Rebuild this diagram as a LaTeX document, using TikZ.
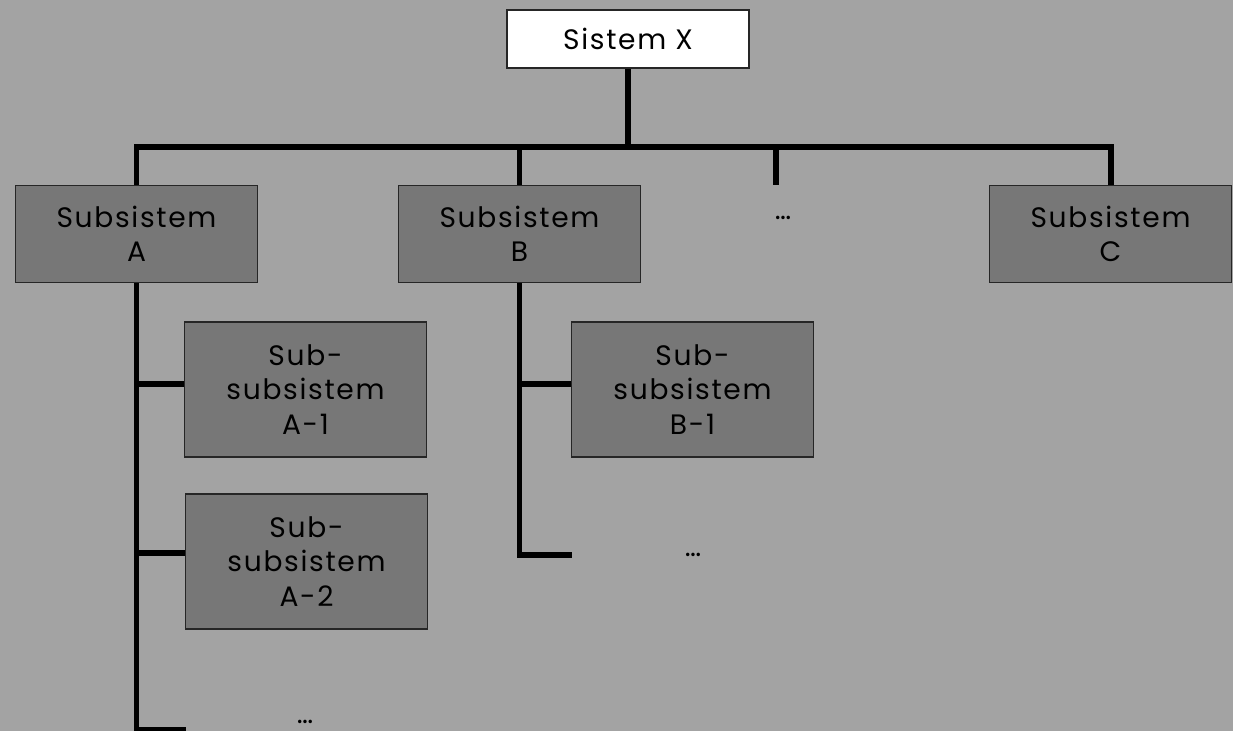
\documentclass[tikz,border=0pt]{standalone}
\usepackage{fontspec}
\setmainfont{Poppins}[LetterSpace=6]
\usepackage{xcolor}
\usetikzlibrary{positioning}
\definecolor{PageGray}{RGB}{163,163,163}
\definecolor{BoxGray}{RGB}{119,119,119}

\begin{document}
\begin{tikzpicture}[
    box/.style={rectangle, draw=black!85, line width=1.1pt, align=center,
                font=\fontsize{16}{19.5}\selectfont, inner sep=0pt},
    topbox/.style={box, fill=white, minimum width=4.84cm, minimum height=1.16cm},
    subbox/.style={box, fill=BoxGray, minimum width=4.84cm, minimum height=1.94cm},
    leafbox/.style={box, fill=BoxGray, minimum width=4.84cm, minimum height=2.7cm},
    dots/.style={font=\fontsize{16}{19.5}\selectfont, inner sep=0pt},
    link/.style={line width=3.4pt, black}
]
% page background
\fill[PageGray] (0,0) rectangle (24.66,-14.62);
\useasboundingbox (0,0) rectangle (24.66,-14.62);

\node[topbox]  (sistemx) at (12.56,-0.78)  {Sistem X};
\node[subbox]  (subA)    at (2.73,-4.68)   {Subsistem\\A};
\node[subbox]  (subB)    at (10.39,-4.68)  {Subsistem\\B};
\node[subbox]  (subC)    at (22.21,-4.68)  {Subsistem\\C};
\node[dots]    (dotsTop) at (15.66,-4.36)  {\dots};

\node[leafbox] (subA1)   at (6.11,-7.79)   {Sub-\\subsistem\\A-1};
\node[leafbox] (subA2)   at (6.13,-11.23)  {Sub-\\subsistem\\A-2};
\node[dots]    (dotsA)   at (6.10,-14.44)  {\dots};
\node[leafbox] (subB1)   at (13.85,-7.79)  {Sub-\\subsistem\\B-1};
\node[dots]    (dotsB)   at (13.86,-11.10) {\dots};

\coordinate (bar)     at (0,-2.94);
\coordinate (tickEnd) at (15.52,-3.70);
\coordinate (endA)    at (3.72,-14.60);
\coordinate (endB)    at (11.44,-11.10);

% level 1
\draw[link] (sistemx.south) -- (sistemx.south |- bar);
\draw[link] (subA.north) -- (subA.north |- bar) -- (subC.north |- bar) -- (subC.north);
\draw[link] (subB.north |- bar) -- (subB.north);
\draw[link] (tickEnd |- bar) -- (tickEnd);

% level 2, A
\draw[link] (subA.south) -- (subA.south |- endA) -- (endA);
\draw[link] (subA.south |- 0,-7.68) -- (subA1.west |- 0,-7.68);
\draw[link] (subA.south |- 0,-11.06) -- (subA2.west |- 0,-11.06);

% level 2, B
\draw[link] (subB.south) -- (subB.south |- endB) -- (endB);
\draw[link] (subB.south |- 0,-7.68) -- (subB1.west |- 0,-7.68);
\end{tikzpicture}
\end{document}
